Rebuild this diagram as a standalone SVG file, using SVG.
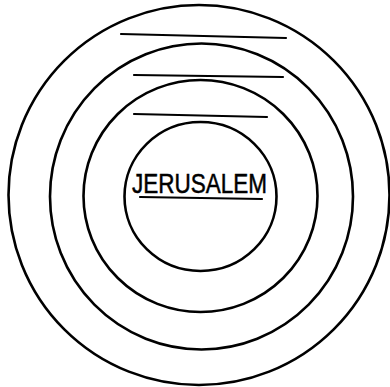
<svg xmlns="http://www.w3.org/2000/svg" width="390" height="387" viewBox="0 0 390 387">
<style>
.ring{fill:none;stroke:#000;stroke-width:2.6}
.rule{stroke:#000;stroke-width:2.2;stroke-linecap:round}
.lbl{font-family:"Liberation Sans",Arial,sans-serif;font-size:28px;fill:#000;stroke:#000;stroke-width:0.5}
</style>
<rect width="390" height="387" fill="#fff"/>
<g id="ring-outer"><ellipse class="ring" cx="199" cy="195" rx="190.5" ry="190"/></g>
<g id="ring-2"><ellipse class="ring" cx="201.5" cy="196.5" rx="151.5" ry="153"/></g>
<g id="ring-3"><ellipse class="ring" cx="200.5" cy="196" rx="117" ry="116"/></g>
<g id="jerusalem">
<ellipse class="ring" cx="200.5" cy="196.5" rx="76" ry="74.5"/>
<text class="lbl" x="132" y="193" textLength="135" lengthAdjust="spacingAndGlyphs">JERUSALEM</text>
<line class="rule" x1="140" y1="197" x2="262" y2="199"/>
</g>
<g id="blanks">
<line class="rule" x1="121" y1="34" x2="286" y2="38"/>
<line class="rule" x1="134" y1="75" x2="283" y2="77"/>
<line class="rule" x1="134" y1="114" x2="267" y2="117"/>
</g>
</svg>
